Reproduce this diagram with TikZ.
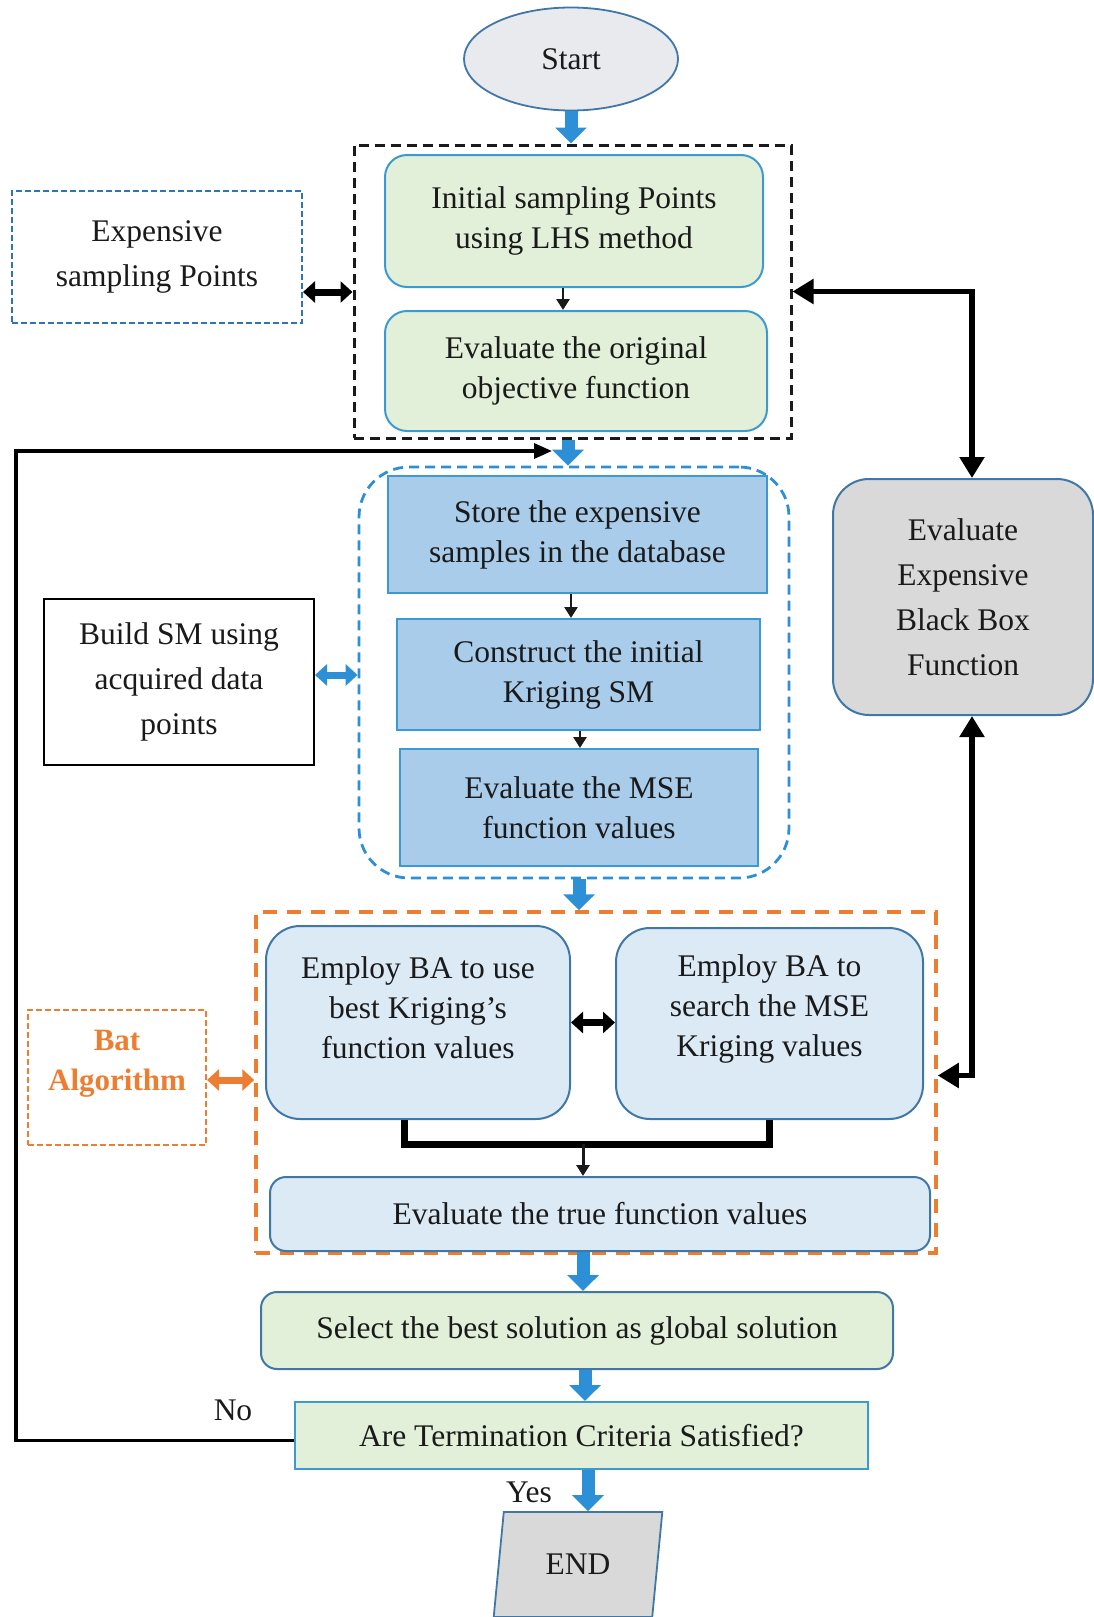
\documentclass[tikz,border=0pt]{standalone}
\usepackage{fontspec}
\setmainfont{Liberation Serif}
\usetikzlibrary{arrows.meta,shapes.geometric,calc}

\definecolor{ink}{HTML}{1A1A1A}
\definecolor{greenF}{HTML}{E2EFD9}
\definecolor{lineL}{HTML}{3D9AD1}
\definecolor{lineD}{HTML}{3F77A8}
\definecolor{midF}{HTML}{A8CCEA}
\definecolor{paleF}{HTML}{DCEAF6}
\definecolor{greyF}{HTML}{D9D9D9}
\definecolor{startF}{HTML}{E8EAEE}
\definecolor{flow}{HTML}{2D8FD5}
\definecolor{orng}{HTML}{ED7D31}
\definecolor{dashblue}{HTML}{2E75B6}

\begin{document}
\begin{tikzpicture}[x=1pt,y=-1pt,
  txt/.style={font=\fontsize{31.5}{40}\selectfont, text=ink, align=center},
  sidetxt/.style={font=\fontsize{31.5}{45}\selectfont, text=ink, align=center},
  stepbox/.style={txt, draw=lineL, line width=2pt, inner sep=0pt},
  greenbox/.style={stepbox, fill=greenF, rounded corners=22pt},
  midbox/.style={stepbox, fill=midF},
  palebox/.style={stepbox, draw=lineD, fill=paleF, rounded corners=34pt},
  frame/.style={inner sep=0pt},
  blk/.style={draw=flow, line width=13pt, -{Triangle[length=16pt,width=31pt]}},
  smarrow/.style={draw=ink, line width=2.6pt, -{Triangle[length=11pt,width=13pt]}},
  dblk/.style={draw=black, line width=7pt, {Triangle[length=12pt,width=21pt]}-{Triangle[length=12pt,width=21pt]}},
  dblu/.style={draw=flow, line width=7pt, {Triangle[length=12pt,width=21pt]}-{Triangle[length=12pt,width=21pt]}},
  dorg/.style={draw=orng, line width=7pt, {Triangle[length=12pt,width=21pt]}-{Triangle[length=12pt,width=21pt]}},
  fb/.style={draw=black, line width=5.5pt, {Triangle[length=21pt,width=24pt]}-{Triangle[length=21pt,width=24pt]}},
  loopline/.style={draw=black, line width=3.5pt, -{Triangle[length=18pt,width=15pt]}},
  merge/.style={draw=black, line width=7pt}
]
\useasboundingbox (0,0) rectangle (1094,1617);

% dashed groupings
\node[frame, draw=ink, line width=3pt, dash pattern=on 10pt off 6pt,
      minimum width=437pt, minimum height=293pt] (grp1) at (572.5,291.5) {};
\node[frame, draw=flow, line width=2.8pt, dash pattern=on 10pt off 6pt, rounded corners=50pt,
      minimum width=430pt, minimum height=411pt] (grp2) at (574,672.5) {};
\node[frame, draw=orng, line width=3.5pt, dash pattern=on 14pt off 10pt,
      minimum width=680pt, minimum height=341pt] (grp3) at (596,1082.5) {};

% start
\node[txt, draw=lineD, line width=1.8pt, fill=startF, ellipse, inner sep=0pt,
      minimum width=214pt, minimum height=103pt] (start) at (571,59) {Start};

% main steps
\node[greenbox, minimum width=378pt, minimum height=132pt] (b1) at (574,221)
  {Initial sampling Points\\using LHS method};
\node[greenbox, minimum width=382pt, minimum height=120pt] (b2) at (576,371)
  {Evaluate the original\\objective function};
\node[midbox, minimum width=379pt, minimum height=117pt] (b3) at (577.5,534.5)
  {Store the expensive\\samples in the database};
\node[midbox, minimum width=363pt, minimum height=111pt] (b4) at (578.5,674.5)
  {Construct the initial\\Kriging SM};
\node[midbox, minimum width=358pt, minimum height=117pt] (b5) at (579,807.5)
  {Evaluate the MSE\\function values};

\node[palebox, minimum width=304pt, minimum height=193pt] (ba1) at (418,1022.5) {};
\node[txt] (ba1t) at (418,1008) {Employ BA to use\\best Kriging’s\\function values};
\node[palebox, minimum width=307pt, minimum height=191pt] (ba2) at (769.5,1023.5) {};
\node[txt] (ba2t) at (769.5,1009) {Employ BA to\\search the MSE\\Kriging values};

\node[palebox, rounded corners=16pt, minimum width=660pt, minimum height=74pt] (tv) at (600,1214)
  {Evaluate the true function values};
\node[greenbox, draw=lineD, rounded corners=16pt, minimum width=632pt, minimum height=77pt] (sel) at (577,1330.5)
  {Select the best solution as global solution};
\node[stepbox, fill=greenF, minimum width=573pt, minimum height=67pt] (term) at (581.5,1435.5)
  {Are Termination Criteria Satisfied?};

\node[txt, trapezium, trapezium left angle=78, trapezium right angle=102, trapezium stretches=true,
      draw=lineD, line width=1.8pt, fill=greyF, inner sep=0pt,
      minimum width=170pt, minimum height=105pt] (end) at (578,1564.5) {END};

% side boxes
\node[sidetxt, frame, draw=dashblue, line width=2pt, dash pattern=on 6pt off 3pt,
      minimum width=290pt, minimum height=132pt] (exp) at (157,257) {Expensive\\sampling Points};
\node[sidetxt, frame, draw=black, line width=2pt,
      minimum width=270pt, minimum height=166pt] (sm) at (179,682) {Build SM using\\acquired data\\points};
\node[frame, draw=orng, line width=2pt, dash pattern=on 6pt off 3pt,
      minimum width=178pt, minimum height=135pt] (bat) at (117,1077) {};
\node[font=\fontsize{31}{40}\selectfont\bfseries, text=orng, align=center] (batt) at (117,1064) {Bat\\Algorithm};
\node[sidetxt, frame, draw=lineD, line width=2pt, fill=greyF, rounded corners=36pt,
      minimum width=260pt, minimum height=236pt] (bb) at (963,597) {Evaluate\\Expensive\\Black Box\\Function};

\node[txt] (no) at (233,1410) {No};
\node[txt] (yes) at (529,1492) {Yes};

% main flow
\draw[blk] (start.south) -- (start.south |- grp1.north);
\draw[blk] ([xshift=-4.5pt]grp1.south) -- ([xshift=-4.5pt]grp1.south |- grp2.north);
\draw[blk] ([xshift=5pt]grp2.south) -- ([xshift=5pt]grp2.south |- grp3.north);
\draw[blk] ([xshift=-17pt]tv.south) -- ([xshift=-17pt]tv.south |- sel.north);
\draw[blk] ([xshift=8pt]sel.south) -- ([xshift=8pt]sel.south |- term.north);
\draw[blk] ([xshift=6.5pt]term.south) -- ([xshift=6.5pt]term.south |- end.north);

\draw[smarrow] ([xshift=-11pt]b1.south) -- ([xshift=-11pt]b1.south |- b2.north);
\draw[smarrow] ([xshift=-6.5pt]b3.south) -- ([xshift=-6.5pt]b3.south |- b4.north);
\draw[smarrow] ([xshift=1.5pt]b4.south) -- ([xshift=1.5pt]b4.south |- b5.north);

% merging the two BA searches
\coordinate (mj) at (583,1144);
\draw[merge] ([xshift=-14pt]ba1.south) |- (mj) -| (ba2.south);
\draw[smarrow, line width=3pt] (mj) -- (mj |- tv.north);

% exchanges with side boxes
\draw[dblk] ([yshift=-35pt]exp.east) -- ([yshift=-35pt]exp.east -| grp1.west);
\draw[dblu] ([yshift=7pt]sm.east) -- ([yshift=7pt]sm.east -| grp2.west);
\draw[dorg] ([yshift=-3pt]bat.east) -- ([yshift=-3pt]bat.east -| grp3.west);
\draw[dblk] (ba1.east) -- (ba1.east -| ba2.west);

% black box evaluations
\draw[fb] (grp1.east) -| ([xshift=9pt]bb.north);
\draw[fb] ([xshift=9pt]bb.south) |- ([yshift=7pt]grp3.east);

% loop back when not terminated
\coordinate (loopL) at (16,451);
\coordinate (loopE) at (552,451);
\draw[loopline] ([yshift=-5pt]term.west) -| (loopL) -- (loopE);
\end{tikzpicture}
\end{document}
